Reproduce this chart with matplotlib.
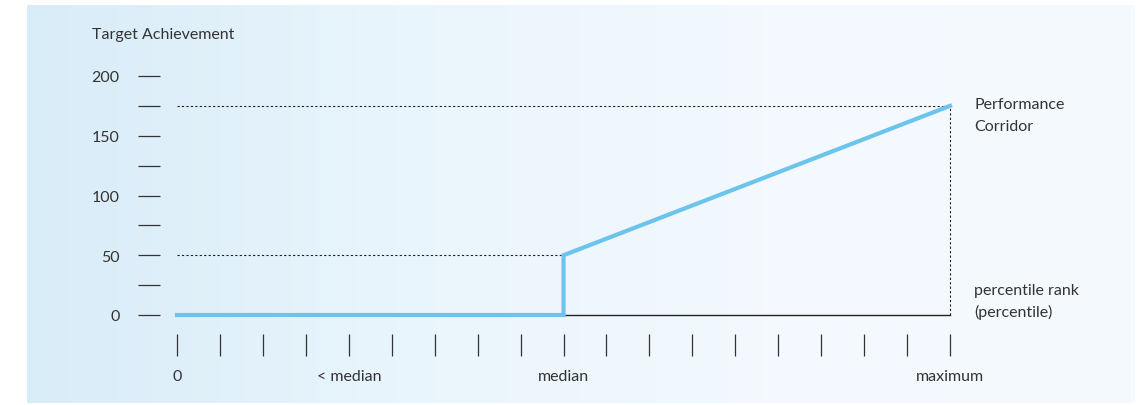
import numpy as np
import matplotlib.pyplot as plt
from matplotlib.colors import LinearSegmentedColormap

plt.rcParams['font.family'] = ['Lato', 'DejaVu Sans']

# data: percentile rank steps (0 .. maximum) vs target achievement (%)
curve_x = [0, 9, 9, 18]
curve_y = [0, 0, 50, 175]
x_ticks = list(range(0, 19))
x_labels = {0: '0', 4: '< median', 9: 'median', 18: 'maximum'}
y_ticks = [0, 25, 50, 75, 100, 125, 150, 175, 200]
y_labels = ['0', '', '50', '', '100', '', '150', '', '200']
median_x, max_x = 9, 18
median_y, max_y = 50, 175

txt = '#333333'
blue = '#6cc4ec'
fs = 11.5

fig = plt.figure(figsize=(11.45, 4.06), dpi=100)
fig.patch.set_facecolor('white')

# gradient panel behind everything
bg = fig.add_axes([27/1145, 2/406, 1108/1145, 398/406])
cmap = LinearSegmentedColormap.from_list('bg', ['#d8ecf8', '#e9f5fc', '#f3f9fe', '#f5faff'])
bg.imshow(np.linspace(0, 1, 256).reshape(1, -1), aspect='auto', cmap=cmap, extent=[0, 1, 0, 1])
bg.set_axis_off()

ax = fig.add_axes([177/1145, 90/406, 773/1145, 239/406])
ax.set_facecolor('none')
ax.set_xlim(0, 18)
ax.set_ylim(0, 200)

# dotted guide lines
ax.plot([0, max_x], [max_y, max_y], color='#222222', lw=0.8, ls=(0, (2, 2)), clip_on=False)
ax.plot([0, median_x], [median_y, median_y], color='#222222', lw=0.8, ls=(0, (2, 2)), clip_on=False)
ax.plot([max_x, max_x], [0, max_y], color='#222222', lw=0.8, ls=(0, (2, 2)), clip_on=False)
# base line
ax.plot([0, max_x], [0, 0], color='#222222', lw=1.0, clip_on=False)
# curve
ax.plot(curve_x, curve_y, color=blue, lw=3, clip_on=False, solid_joinstyle='miter')

for s in ['top', 'right']:
    ax.spines[s].set_visible(False)
ax.spines['left'].set_position(('outward', 12.2))
ax.spines['bottom'].set_position(('outward', 13.7))
ax.spines['left'].set_visible(False)
ax.spines['bottom'].set_visible(False)

ax.set_yticks(y_ticks)
ax.set_yticklabels(y_labels)
ax.set_xticks(x_ticks)
ax.set_xticklabels([x_labels.get(i, '') for i in x_ticks])
ax.tick_params(axis='y', direction='out', length=16, width=0.9, color='#333333',
               pad=13, labelsize=fs, labelcolor=txt)
ax.tick_params(axis='x', direction='out', length=16, width=0.9, color='#333333',
               pad=9, labelsize=fs, labelcolor=txt)

fig.text(92/1145, 1 - 35/406, 'Target Achievement', fontsize=fs, color=txt, va='center', ha='left')
fig.text(974/1145, 1 - 116/406, 'Performance\nCorridor', fontsize=fs, color=txt,
         va='center', ha='left', linespacing=1.65)
fig.text(974/1145, 1 - 302/406, 'percentile rank\n(percentile)', fontsize=fs, color=txt,
         va='center', ha='left', linespacing=1.65)

fig.savefig('out.png', dpi=100)
